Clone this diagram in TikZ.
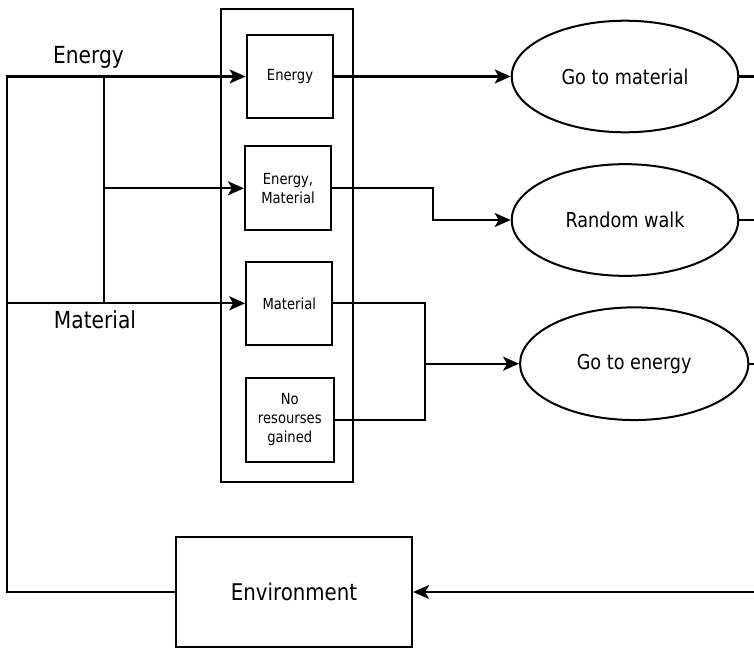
\documentclass[tikz,border=0pt]{standalone}
\usepackage{fontspec}
\setmainfont{DejaVu Sans}[FakeStretch=0.86]
\usetikzlibrary{arrows.meta,shapes.geometric,calc}
\tikzset{
  line/.style={line width=2.2pt},
  arr/.style={line width=2.2pt,-{Stealth[length=16pt,width=14pt,inset=4pt]}},
  sbox/.style={draw,line width=2.2pt,rectangle,inner sep=0pt,align=center,font=\fontsize{15.3}{19}\selectfont},
  oval/.style={draw,line width=2pt,ellipse,inner sep=0pt,font=\fontsize{20.5}{24}\selectfont},
  lbl/.style={inner sep=0pt,font=\fontsize{23.5}{28}\selectfont}
}
\begin{document}
\begin{tikzpicture}[x=1pt,y=-1pt]
\useasboundingbox (0,0) rectangle (754,648);
% container
\node[draw,line width=2.2pt,minimum width=132.3pt,minimum height=472.4pt,inner sep=0pt] (cont) at (286.9,245.5) {};
% state boxes
\node[sbox,minimum width=86.6pt,minimum height=83pt] (bE) at (290,76.5) {Energy};
\node[sbox,minimum width=86pt,minimum height=84pt] (bEM) at (288,188.3) {Energy,\\Material};
\node[sbox,minimum width=86pt,minimum height=83.3pt] (bM) at (289.3,303.3) {Material};
\node[sbox,minimum width=88.3pt,minimum height=84.3pt] (bN) at (289.8,420) {No\\resourses\\gained};
% behaviours
\node[oval,minimum width=226.6pt,minimum height=111.6pt] (eGM) at (625,76.5) {Go to material};
\node[oval,minimum width=226.6pt,minimum height=111.7pt] (eRW) at (625,220) {Random walk};
\node[oval,minimum width=228.3pt,minimum height=112.7pt] (eGE) at (634.2,363.7) {Go to energy};
% environment
\node[draw,line width=2.2pt,minimum width=236pt,minimum height=110pt,inner sep=0pt,font=\fontsize{23}{28}\selectfont] (env) at (294,592) {Environment};
% labels
\node[lbl] (lE) at (88.5,57) {Energy};
\node[lbl] (lM) at (95,320) {Material};
% coordinates
\coordinate (L) at (7,76.5);
\coordinate (LM) at (7,303.3);
\coordinate (J) at (104.3,76.5);
\coordinate (mx) at (425,0);
\coordinate (R) at (754,0);
% left feed
\draw[arr] (env.west) -| (L) -- (bE.west);
\draw[arr] (LM) -- (bM.west);
\draw[line] (J) -- (J |- bM.west);
\draw[arr] (J |- bEM.west) -- (bEM.west);
% to behaviours
\draw[arr] (bE.east) -- (eGM.west);
\draw[arr] (bEM.east) -- ++(100.7,0) |- (eRW.west);
\draw[line] (bM.east) -| (mx |- bN.east) -- (bN.east);
\draw[arr] (mx |- eGE.west) -- (eGE.west);
% right side
\draw[line] (eGM.east) -- (eGM.east -| R);
\draw[line] (eRW.east) -- (eRW.east -| R);
\draw[line] (eGE.east) -- (eGE.east -| R);
\draw[arr] (R |- env.east) -- (env.east);
\end{tikzpicture}
\end{document}
